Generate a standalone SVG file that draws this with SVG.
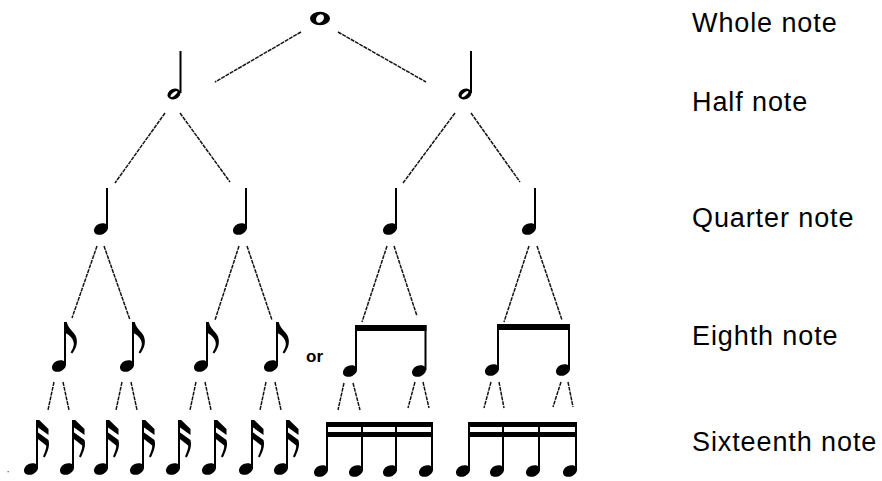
<svg xmlns="http://www.w3.org/2000/svg" xmlns:xlink="http://www.w3.org/1999/xlink" width="882" height="481" viewBox="0 0 882 481">
<style>
.ln{stroke:#141414;stroke-width:1.5;stroke-dasharray:4 0.9;fill:none}
.st{fill:#000}
.lbl{font-family:"Liberation Sans",Arial,sans-serif;font-size:27px;letter-spacing:0.9px;fill:#000}
.or{font-family:"Liberation Sans",Arial,sans-serif;font-size:17px;font-weight:bold;fill:#000}
</style>
<defs>
<ellipse id="head" cx="0" cy="0" rx="7.4" ry="5.4" transform="rotate(-25)" fill="#000"/>
<g id="hhead">
<ellipse cx="0" cy="0" rx="6.8" ry="5.2" transform="rotate(-25)" fill="#000"/>
<ellipse cx="0" cy="0" rx="4.2" ry="1.5" transform="rotate(-40)" fill="#fff"/>
</g>
<path id="flag8" d="M-2,0 L0.8,0 C1.8,5 5.5,8 8.5,12 C11.5,16 11.5,22 9.5,26 C8.5,28 7.5,30 6.3,31.5 L4.6,30.4 C6,28 7.8,25 7.8,22 C7.8,16.5 3,12.5 -2,10.5 Z" fill="#000"/>
<g id="flag16" fill="#000">
<path d="M-2,0 L1.2,0 L10.5,9 L10.5,15 L-2,6 Z"/>
<path d="M-2,11 L10.5,20 C12,26 10,31 6.8,37.5 L5,36.6 C7.2,31.5 8.5,28 8.2,25.5 L-2,17.5 Z"/>
</g>
</defs>
<rect width="882" height="481" fill="#fff"/>

<g id="connectors">
<line class="ln" x1="301" y1="32" x2="215" y2="82"/>
<line class="ln" x1="338" y1="32" x2="426" y2="82"/>
<line class="ln" x1="165" y1="113" x2="115" y2="183"/>
<line class="ln" x1="180" y1="113" x2="230" y2="182"/>
<line class="ln" x1="455" y1="113" x2="403" y2="183"/>
<line class="ln" x1="471" y1="113" x2="520" y2="182"/>
<line class="ln" x1="97" y1="246" x2="72" y2="318"/>
<line class="ln" x1="104" y1="246" x2="130" y2="320"/>
<line class="ln" x1="239" y1="246" x2="215" y2="320"/>
<line class="ln" x1="247" y1="246" x2="272" y2="320"/>
<line class="ln" x1="387" y1="246" x2="362" y2="322"/>
<line class="ln" x1="394" y1="246" x2="417" y2="316"/>
<line class="ln" x1="529" y1="246" x2="504" y2="322"/>
<line class="ln" x1="537" y1="246" x2="562" y2="320"/>
<line class="ln" x1="54" y1="382" x2="48" y2="410"/>
<line class="ln" x1="63" y1="382" x2="69" y2="410"/>
<line class="ln" x1="122" y1="382" x2="116" y2="410"/>
<line class="ln" x1="131" y1="382" x2="137" y2="410"/>
<line class="ln" x1="196" y1="382" x2="190" y2="410"/>
<line class="ln" x1="205" y1="382" x2="211" y2="410"/>
<line class="ln" x1="266" y1="382" x2="260" y2="410"/>
<line class="ln" x1="275" y1="382" x2="281" y2="410"/>
<line class="ln" x1="344" y1="383" x2="338" y2="410"/>
<line class="ln" x1="353" y1="383" x2="360" y2="410"/>
<line class="ln" x1="415" y1="382" x2="408" y2="408"/>
<line class="ln" x1="423" y1="382" x2="429" y2="408"/>
<line class="ln" x1="491" y1="382" x2="484" y2="408"/>
<line class="ln" x1="499" y1="382" x2="504" y2="408"/>
<line class="ln" x1="561" y1="382" x2="553" y2="407"/>
<line class="ln" x1="568" y1="382" x2="573" y2="407"/>
</g>

<g id="whole-note">
<ellipse cx="320" cy="18.5" rx="10" ry="6.8" fill="#000"/>
<ellipse cx="320" cy="18.5" rx="3.6" ry="4.6" transform="rotate(35 320 18.5)" fill="#fff"/>
</g>

<g id="half-note-1"><use xlink:href="#hhead" x="174" y="94"/><rect class="st" x="179.5" y="51" width="2" height="42"/></g>
<g id="half-note-2"><use xlink:href="#hhead" x="465" y="94"/><rect class="st" x="470" y="51" width="2" height="42"/></g>

<g id="quarter-note-1"><use xlink:href="#head" x="101" y="229"/><rect class="st" x="106" y="188" width="2" height="40"/></g>
<g id="quarter-note-2"><use xlink:href="#head" x="240" y="229"/><rect class="st" x="245" y="188" width="2" height="40"/></g>
<g id="quarter-note-3"><use xlink:href="#head" x="390" y="229"/><rect class="st" x="395" y="188" width="2" height="40"/></g>
<g id="quarter-note-4"><use xlink:href="#head" x="529" y="229"/><rect class="st" x="534" y="188" width="2" height="40"/></g>

<g id="eighth-note-1"><use xlink:href="#head" x="59" y="366"/><rect class="st" x="64" y="322" width="2" height="43"/><use xlink:href="#flag8" x="66" y="322"/></g>
<g id="eighth-note-2"><use xlink:href="#head" x="127" y="366"/><rect class="st" x="132" y="322" width="2" height="43"/><use xlink:href="#flag8" x="134" y="322"/></g>
<g id="eighth-note-3"><use xlink:href="#head" x="201" y="366"/><rect class="st" x="206" y="322" width="2" height="43"/><use xlink:href="#flag8" x="208" y="322"/></g>
<g id="eighth-note-4"><use xlink:href="#head" x="271" y="366"/><rect class="st" x="276" y="322" width="2" height="43"/><use xlink:href="#flag8" x="278" y="322"/></g>

<text class="or" x="306" y="362">or</text>

<g id="beamed-eighths-1">
<use xlink:href="#head" x="350" y="371"/><use xlink:href="#head" x="419" y="371"/>
<rect class="st" x="355" y="325" width="2" height="45"/><rect class="st" x="424.5" y="325" width="2" height="45"/>
<rect class="st" x="355" y="325" width="71.5" height="6"/>
</g>
<g id="beamed-eighths-2">
<use xlink:href="#head" x="492" y="370"/><use xlink:href="#head" x="563" y="370"/>
<rect class="st" x="497" y="324" width="2" height="45"/><rect class="st" x="568" y="324" width="2" height="45"/>
<rect class="st" x="497" y="324" width="73" height="6"/>
</g>

<g id="sixteenth-note-1"><use xlink:href="#head" x="31" y="469"/><rect class="st" x="36" y="420" width="2" height="48"/><use xlink:href="#flag16" x="38" y="420"/></g>
<g id="sixteenth-note-2"><use xlink:href="#head" x="67" y="469"/><rect class="st" x="72" y="420" width="2" height="48"/><use xlink:href="#flag16" x="74" y="420"/></g>
<g id="sixteenth-note-3"><use xlink:href="#head" x="101" y="469"/><rect class="st" x="106" y="420" width="2" height="48"/><use xlink:href="#flag16" x="108" y="420"/></g>
<g id="sixteenth-note-4"><use xlink:href="#head" x="137" y="469"/><rect class="st" x="142" y="420" width="2" height="48"/><use xlink:href="#flag16" x="144" y="420"/></g>
<g id="sixteenth-note-5"><use xlink:href="#head" x="173" y="469"/><rect class="st" x="178" y="420" width="2" height="48"/><use xlink:href="#flag16" x="180" y="420"/></g>
<g id="sixteenth-note-6"><use xlink:href="#head" x="209" y="469"/><rect class="st" x="214" y="420" width="2" height="48"/><use xlink:href="#flag16" x="216" y="420"/></g>
<g id="sixteenth-note-7"><use xlink:href="#head" x="246" y="469"/><rect class="st" x="251" y="420" width="2" height="48"/><use xlink:href="#flag16" x="253" y="420"/></g>
<g id="sixteenth-note-8"><use xlink:href="#head" x="281" y="469"/><rect class="st" x="286" y="420" width="2" height="48"/><use xlink:href="#flag16" x="288" y="420"/></g>

<g id="beamed-sixteenths-1">
<use xlink:href="#head" x="321" y="471"/><use xlink:href="#head" x="356" y="471"/><use xlink:href="#head" x="390" y="471"/><use xlink:href="#head" x="426" y="471"/>
<rect class="st" x="326" y="422" width="2" height="48"/><rect class="st" x="361" y="422" width="2" height="48"/><rect class="st" x="395" y="422" width="2" height="48"/><rect class="st" x="431" y="422" width="2" height="48"/>
<rect class="st" x="326" y="422" width="107" height="5"/><rect class="st" x="326" y="432" width="107" height="5"/>
</g>
<g id="beamed-sixteenths-2">
<use xlink:href="#head" x="463" y="471"/><use xlink:href="#head" x="497" y="471"/><use xlink:href="#head" x="533" y="471"/><use xlink:href="#head" x="570" y="471"/>
<rect class="st" x="468" y="422" width="2" height="48"/><rect class="st" x="502" y="422" width="2" height="48"/><rect class="st" x="538" y="422" width="2" height="48"/><rect class="st" x="575" y="422" width="2" height="48"/>
<rect class="st" x="468" y="422" width="109" height="5"/><rect class="st" x="468" y="432" width="109" height="5"/>
</g>

<rect x="7.5" y="471" width="1.3" height="1.3" fill="#666"/>

<g id="labels">
<text class="lbl" x="692" y="32">Whole note</text>
<text class="lbl" x="692" y="111">Half note</text>
<text class="lbl" x="692" y="227">Quarter note</text>
<text class="lbl" x="692" y="345">Eighth note</text>
<text class="lbl" x="692" y="451">Sixteenth note</text>
</g>
</svg>
